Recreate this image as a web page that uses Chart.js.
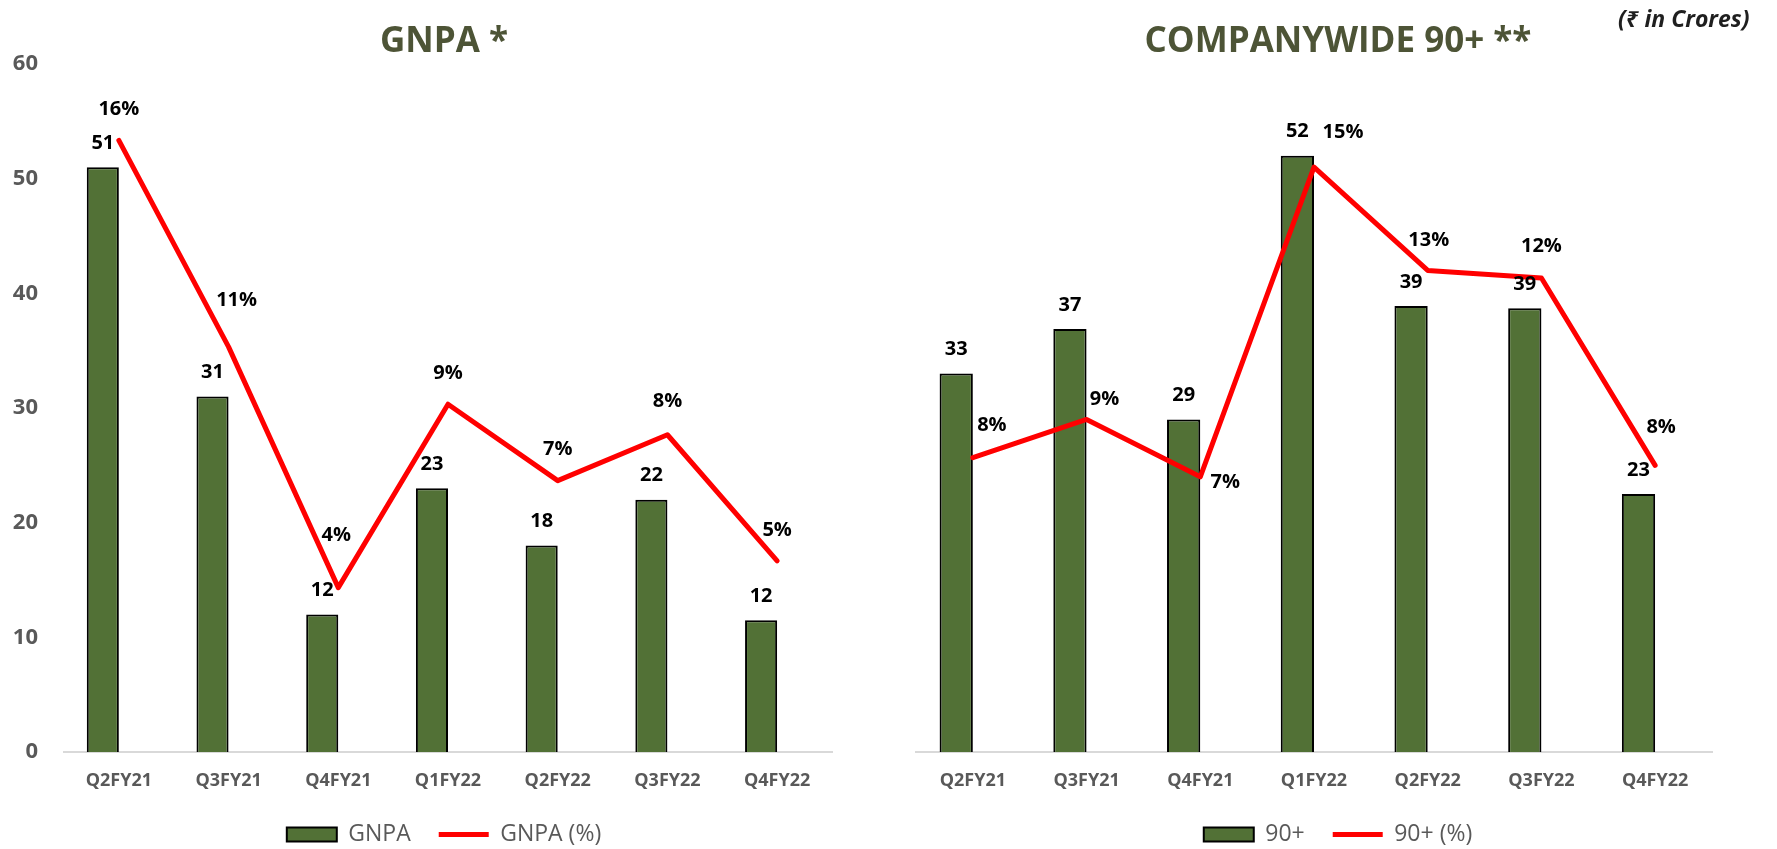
<!DOCTYPE html>
<html>
<head>
<meta charset="utf-8">
<script src="https://cdn.jsdelivr.net/npm/chart.js@4.4.1/dist/chart.umd.min.js"></script>
<style>
    body { margin: 0; background: #fff; }
    #wrap { position: relative; width: 1777px; height: 849px; overflow: hidden; }
    #gnpaChart { position: absolute; left: 0; top: 0; }
    #ninetyChart { position: absolute; left: 880px; top: 0; }
    #unit {
        position: absolute; left: 1618px; top: 2px;
        font: italic bold 23px "Open Sans", "Noto Sans", sans-serif; color: #1f1f1f;
    }
</style>
</head>
<body>
<div id="wrap">
    <canvas id="gnpaChart" width="880" height="849"></canvas>
    <canvas id="ninetyChart" width="897" height="849"></canvas>
    <div id="unit">(₹ in Crores)</div>
</div>
<script>
const quarters = ['Q2FY21', 'Q3FY21', 'Q4FY21', 'Q1FY22', 'Q2FY22', 'Q3FY22', 'Q4FY22'];

// ₹ crores
const gnpaValues = [51, 31, 12, 23, 18, 22, 11.5];
const ninetyValues = [33, 36.9, 29, 52, 38.9, 38.7, 22.5];

// percentages (secondary axis)
const gnpaPct = [16.0, 10.6, 4.3, 9.1, 7.1, 8.3, 5.0];
const ninetyPct = [7.7, 8.7, 7.2, 15.3, 12.6, 12.4, 7.5];

const amountTicks = [0, 10, 20, 30, 40, 50, 60];
const pctAxisMax = 18;

// label nudges for the % labels, [dx, dy] from the line point
const gnpaPctShift = [[0, -31], [8, -47], [-2, -52], [0, -31], [0, -31], [0, -33], [0, -31]];
const ninetyPctShift = [[19, -32], [18, -20], [25, 5], [29, -35], [1, -30], [0, -32], [6, -38]];

const barGreen = '#527136';
const gray = '#595959';

const valueLabels = {
    id: 'valueLabels',
    afterDatasetsDraw(chart, args, opts) {
        const ctx = chart.ctx;
        ctx.save();
        ctx.font = 'bold 20px "Open Sans"';
        ctx.fillStyle = '#000';
        ctx.textAlign = 'center';
        ctx.textBaseline = 'middle';
        chart.getDatasetMeta(0).data.forEach(function (bar, i) {
            ctx.fillText(Math.round(chart.data.datasets[0].data[i]), bar.x, bar.y - 24);
        });
        chart.getDatasetMeta(2).data.forEach(function (pt, i) {
            let s = opts.shift[i];
            ctx.fillText(Math.round(chart.data.datasets[2].data[i]) + '%', pt.x + s[0], pt.y + s[1]);
        });
        ctx.restore();
    }
};

function createChart(elem, title, barLabel, bars, lineLabel, pct, shift, showTicks, padLeft, yWidth, y1Width) {
    return new Chart(elem, {
        type: 'bar',
        data: {
            labels: quarters,
            datasets: [{
                label: barLabel,
                data: bars,
                backgroundColor: barGreen,
                borderColor: '#000',
                borderWidth: 2,
                pointStyle: 'rect',
                yAxisID: 'y',
                order: 1
            }, {
                label: '',
                data: quarters.map(function () { return null; }),
                yAxisID: 'y',
                order: 1
            }, {
                type: 'line',
                label: lineLabel,
                data: pct,
                borderColor: '#ff0000',
                backgroundColor: '#ff0000',
                borderWidth: 5,
                pointRadius: 0,
                pointStyle: 'line',
                tension: 0,
                borderCapStyle: 'round',
                borderJoinStyle: 'round',
                yAxisID: 'y1',
                order: 0
            }]
        },
        options: {
            responsive: false,
            animation: false,
            categoryPercentage: 0.585,
            barPercentage: 1,
            layout: { padding: { left: padLeft, right: 0, top: 0, bottom: -7 } },
            scales: {
                x: {
                    grid: { display: false, drawTicks: false },
                    border: { color: '#d9d9d9', width: 2 },
                    ticks: { padding: 18, color: gray, font: { family: 'Open Sans', size: 18, weight: 'bold' } },
                    afterFit: function (s) { s.height = 43; }
                },
                y: {
                    display: true,
                    min: amountTicks[0],
                    max: amountTicks[amountTicks.length - 1],
                    afterBuildTicks: function (s) { s.ticks = amountTicks.map(function (v) { return { value: v }; }); },
                    grid: { display: false, drawTicks: false },
                    border: { display: false },
                    ticks: { display: showTicks, padding: 26, color: gray, font: { family: 'Open Sans', size: 22, weight: 'bold' } },
                    afterFit: function (s) { s.width = yWidth; }
                },
                y1: {
                    display: true,
                    position: 'right',
                    min: 0,
                    max: pctAxisMax,
                    grid: { display: false, drawTicks: false },
                    border: { display: false },
                    ticks: { display: false },
                    afterFit: function (s) { s.width = y1Width; }
                }
            },
            plugins: {
                title: {
                    display: true,
                    text: title,
                    color: '#4d5436',
                    font: { family: 'Open Sans', size: 35, weight: 'bold', lineHeight: 1.2 },
                    padding: { top: 21, bottom: 1 }
                },
                legend: {
                    position: 'bottom',
                    labels: {
                        usePointStyle: true,
                        pointStyleWidth: 50,
                        boxHeight: 14,
                        padding: 28,
                        color: gray,
                        font: { family: 'Open Sans', size: 23 },
                        filter: function (item) { return item.text !== ''; },
                        sort: function (a, b) { return a.datasetIndex - b.datasetIndex; }
                    }
                },
                tooltip: { enabled: false },
                valueLabels: { shift: shift }
            }
        },
        plugins: [valueLabels]
    });
}

createChart(document.getElementById('gnpaChart'), 'GNPA *', 'GNPA', gnpaValues, 'GNPA (%)', gnpaPct, gnpaPctShift, true, 8, 56, 48);
createChart(document.getElementById('ninetyChart'), 'COMPANYWIDE 90+ **', '90+', ninetyValues, '90+ (%)', ninetyPct, ninetyPctShift, false, 19, 17, 65);
</script>
</body>
</html>
